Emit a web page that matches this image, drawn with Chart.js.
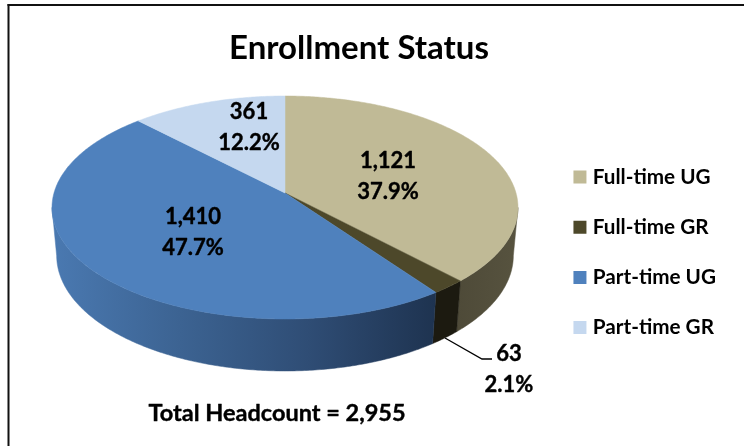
<!DOCTYPE html>
<html><head><meta charset="utf-8">
<style>html,body{margin:0;padding:0;background:#fff}#w{position:relative;width:744px;height:446px;overflow:hidden}canvas{display:block}</style>
<script src="https://cdn.jsdelivr.net/npm/chart.js@4/dist/chart.umd.js"></script>
</head><body><div id="w"><canvas id="c" width="744" height="446"></canvas></div>
<script>
const categories = ["Full-time UG", "Full-time GR", "Part-time UG", "Part-time GR"];
const values = [1121, 63, 1410, 361];
const titleText = "Enrollment Status";
const footText = "Total Headcount = 2,955";
const topColors = ["#C0BA96", "#4D482A", "#4F81BD", "#C5D8EF"];
const wallStops = [
  ["#4E4A38", "#57533F"],
  ["#1C1A10", "#1C1A10"],
  ["#4A79B1", "#3C6392", "#2F4D75", "#1E3350"],
  ["#8FA0B5", "#6F8095"]
];
const FONT = "Lato, Carlito, sans-serif";
// perspective projection of the pie disc
const P = {x:285, y:193, a:231, b:109.6, k:0.13, c:48.8, m:0.02};
const labelPos = [[388,176],[509,369],[193,232],[249,127]];
const labelGap = 31;
const leader = [[445,338],[482,359],[492,359]];

function proj(t, z){
  const x=Math.cos(t), y=Math.sin(t), w=1-P.k*y+P.m*z;
  return [P.x+P.a*x/w, P.y+(P.b*y+P.c*z)/w];
}
function rim(t0,t1){
  const n=Math.max(2,Math.ceil((t1-t0)/0.01)), r=[];
  for(let i=0;i<=n;i++) r.push(t0+(t1-t0)*i/n);
  return r;
}
function boldText(ctx,s,x,y){ ctx.fillText(s,x,y); ctx.strokeText(s,x,y); }
const pie3d = {
  id:'pie3d',
  afterLayout(chart){ chart.titleBlock.left-=4; chart.titleBlock.right-=4; },
  beforeDatasetsDraw(chart){
    const ctx=chart.ctx, arcs=chart.getDatasetMeta(0).data;
    const alpha=Math.asin(P.k);
    ctx.save();
    arcs.forEach((el,i)=>{
      const t0=Math.max(el.startAngle,alpha), t1=Math.min(el.endAngle,Math.PI-alpha);
      if(t1<=t0) return;
      const t=rim(t0,t1);
      const top=t.map(a=>proj(a,0)), bot=t.map(a=>proj(a,1));
      const xs=top.concat(bot).map(p=>p[0]);
      const g=ctx.createLinearGradient(Math.min(...xs),0,Math.max(...xs),0);
      wallStops[i].forEach((c,j,s)=>g.addColorStop(j/(s.length-1),c));
      ctx.beginPath();
      top.forEach((p,j)=>j?ctx.lineTo(p[0],p[1]):ctx.moveTo(p[0],p[1]));
      bot.reverse().forEach(p=>ctx.lineTo(p[0],p[1]));
      ctx.closePath();
      ctx.fillStyle=g; ctx.fill();
      ctx.strokeStyle=g; ctx.lineWidth=0.5; ctx.stroke();
    });
    arcs.forEach((el,i)=>{
      ctx.beginPath();
      ctx.moveTo(P.x,P.y);
      rim(el.startAngle,el.endAngle).forEach(a=>{const p=proj(a,0);ctx.lineTo(p[0],p[1]);});
      ctx.closePath();
      ctx.fillStyle=topColors[i]; ctx.fill();
      ctx.strokeStyle=topColors[i]; ctx.lineWidth=0.5; ctx.stroke();
    });
    ctx.restore();
    return false;
  },
  afterDraw(chart){
    const ctx=chart.ctx, total=values.reduce((a,b)=>a+b,0);
    ctx.save();
    ctx.strokeStyle="#000"; ctx.lineWidth=1.3;
    ctx.beginPath();
    leader.forEach((p,j)=>j?ctx.lineTo(p[0],p[1]):ctx.moveTo(p[0],p[1]));
    ctx.stroke();
    ctx.fillStyle="#000"; ctx.textAlign="center"; ctx.textBaseline="middle";
    ctx.lineWidth=0.4; ctx.lineJoin="round";
    ctx.font="bold 22px "+FONT;
    values.forEach((v,i)=>{
      const [x,y]=labelPos[i];
      boldText(ctx,v.toLocaleString("en-US"),x,y-labelGap/2);
      boldText(ctx,(v/total*100).toFixed(1)+"%",x,y+labelGap/2);
    });
    ctx.font="bold 23.5px "+FONT;
    boldText(ctx,footText,277,413);
    ctx.fillStyle="#111";
    ctx.fillRect(7.5,4,736.5,2);
    ctx.fillRect(7.5,4,2,442);
    ctx.restore();
  }
};
new Chart(document.getElementById('c'),{
  type:'pie',
  data:{labels:categories,datasets:[{data:values,backgroundColor:topColors,borderWidth:0}]},
  options:{
    responsive:false,animation:false,
    layout:{padding:{right:18,bottom:10}},
    plugins:{
      title:{display:true,text:titleText,color:"#000",font:{family:FONT,size:33,weight:'bold'},padding:{top:29,bottom:0}},
      legend:{position:'right',fullSize:false,labels:{usePointStyle:true,pointStyle:'rect',boxWidth:5,boxHeight:13,padding:29.5,color:"#000",font:{family:FONT,size:20.7,weight:'bold'}}},
      tooltip:{enabled:false}
    }
  },
  plugins:[pie3d]
});
</script></body></html>
